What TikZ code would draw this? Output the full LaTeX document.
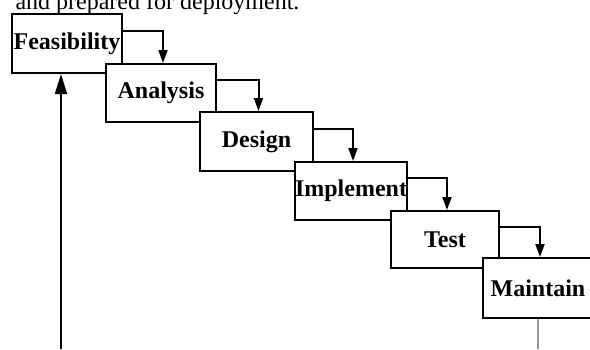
\documentclass[tikz,border=0pt]{standalone}
\usepackage{fontspec}
\setmainfont{Liberation Serif}
\usetikzlibrary{arrows.meta}
\definecolor{lineGrey}{RGB}{150,150,150}

\tikzset{
  stage/.style={draw, fill=white, line width=2pt, inner sep=0pt,
    font=\fontsize{24}{28}\selectfont\bfseries},
  flow/.style={line width=2pt, -{Triangle[length=13pt, width=9pt]}},
}

\begin{document}
\begin{tikzpicture}[x=1pt, y=-1pt]
  \clip (0,0) rectangle (590,349);
  \fill[white] (0,0) rectangle (590,349);
  \node[anchor=base west, font=\fontsize{24}{28}\selectfont] (caption) at (12,9) {and prepared for deployment.};

  \node[stage, minimum width=110pt, minimum height=59pt] (feas) at (67,43.5) {Feasibility};
  \node[stage, minimum width=110pt, minimum height=58pt] (anal) at (161,93) {Analysis};
  \node[stage, minimum width=113pt, minimum height=59pt] (design) at (256.5,141.5) {Design};
  \node[stage, minimum width=112pt, minimum height=58pt] (impl) at (351,191) {Implement};
  \node[stage, minimum width=108pt, minimum height=57pt] (test) at (445,239.5) {Test};
  \node[stage, minimum width=110pt, minimum height=60pt] (maint) at (538,288) {Maintain};

  \foreach \a/\b in {feas/anal, anal/design, design/impl, impl/test, test/maint}
    \draw[flow] ([yshift=13pt]\a.east) -| ([xshift=2pt]\b.north);

  % back to the start
  \coordinate (loopstart) at (61,349);
  \draw[line width=2pt, -{Triangle[length=20pt, width=12pt]}] (loopstart) -- (loopstart |- feas.south);

  \coordinate (maintend) at (539,349);
  \draw[lineGrey, line width=2pt] (maint.south) -- (maint.south |- maintend);
\end{tikzpicture}
\end{document}
